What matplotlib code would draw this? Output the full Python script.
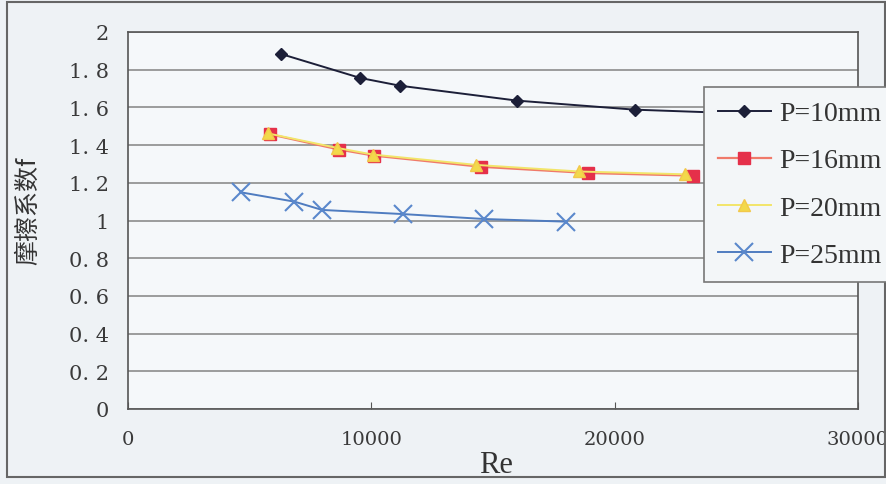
import matplotlib
matplotlib.use("Agg")
import matplotlib.pyplot as plt
from matplotlib.patches import Rectangle

# ---- data ----
re_p10 = [6300, 9550, 11180, 15990, 20820, 27000]
f_p10 = [1.883, 1.756, 1.715, 1.636, 1.588, 1.56]

re_p16 = [5820, 8690, 10120, 14510, 18890, 23200]
f_p16 = [1.458, 1.376, 1.344, 1.285, 1.252, 1.238]

re_p20 = [5750, 8600, 10050, 14300, 18550, 22900]
f_p20 = [1.462, 1.385, 1.350, 1.295, 1.260, 1.245]

re_p25 = [4660, 6840, 7980, 11310, 14630, 17980]
f_p25 = [1.149, 1.100, 1.056, 1.034, 1.008, 0.994]

labels = ["P=10mm", "P=16mm", "P=20mm", "P=25mm"]
x_ticks = [0, 10000, 20000, 30000]
y_ticks = [0, 0.2, 0.4, 0.6, 0.8, 1, 1.2, 1.4, 1.6, 1.8, 2]
y_tick_labels = ["0", "0. 2", "0. 4", "0. 6", "0. 8", "1", "1. 2", "1. 4", "1. 6", "1. 8", "2"]

serif = ["Liberation Serif", "DejaVu Serif"]
tickfont = ["DejaVu Serif"]

fig = plt.figure(figsize=(8.87, 4.85), dpi=100)
fig.patch.set_facecolor("#eef2f5")
ax = fig.add_axes([128/887, 1-410/485, (858-128)/887, (410-33)/485])
ax.set_facecolor("#f5f8fa")

ax.plot(re_p10, f_p10, color="#1c1f38", lw=1.4, marker="D", ms=6.5,
        mfc="#1c1f38", mec="#1c1f38", label=labels[0], zorder=4)
ax.plot(re_p16, f_p16, color="#f07a6a", lw=1.6, marker="s", ms=8.5,
        mfc="#e5304a", mec="#e5304a", label=labels[1], zorder=3)
ax.plot(re_p20, f_p20, color="#f2e56a", lw=1.4, marker="^", ms=8,
        mfc="#f2d94a", mec="#f2c84a", label=labels[2], zorder=3)
ax.plot(re_p25, f_p25, color="#4f7cc0", lw=1.4, marker="x", ms=13,
        mew=1.5, mec="#5a88cc", label=labels[3], zorder=3)

ax.set_xlim(0, 30000)
ax.set_ylim(0, 2)
ax.set_yticks(y_ticks)
ax.set_yticklabels(y_tick_labels)
ax.set_xticks(x_ticks)
ax.set_xticklabels([str(t) for t in x_ticks])
ax.yaxis.grid(True, color="#8c8c8c", lw=1.2)
ax.set_axisbelow(True)
ax.tick_params(axis="y", length=0, pad=14, labelsize=15)
ax.tick_params(axis="x", direction="in", length=5, pad=15, labelsize=14,
               color="#555555")
for lab in ax.get_xticklabels() + ax.get_yticklabels():
    lab.set_fontfamily(tickfont)
    lab.set_color("#3a3a3a")
for s in ax.spines.values():
    s.set_color("#555555")
    s.set_linewidth(1.2)

fig.text(496/887, 1-466/485, "Re", ha="center", va="center",
         fontsize=22, family=serif, color="#333333")
fig.text(28/887, 1-211/485, "摩擦系数f", rotation=90, ha="center", va="center",
         fontsize=18, family=["Noto Sans CJK SC", "DejaVu Sans"], color="#333333")

leg = fig.legend(loc="upper left", bbox_to_anchor=(704/887, 1-88/485),
                 bbox_transform=fig.transFigure, prop={"family": serif, "size": 20},
                 frameon=True, fancybox=False, framealpha=1, edgecolor="#777777",
                 handlelength=1.9, labelspacing=0.78, borderpad=0.5,
                 handletextpad=0.3, borderaxespad=0)
leg.get_frame().set_facecolor("#f3f6f8")
leg.get_frame().set_linewidth(1.2)
for t in leg.get_texts():
    t.set_color("#333333")

fig.add_artist(Rectangle((7/887, 1-478/485), 878/887, 475/485,
                         transform=fig.transFigure, fill=False,
                         edgecolor="#666666", lw=1.5))

fig.savefig("out.png", dpi=100, facecolor=fig.get_facecolor())
